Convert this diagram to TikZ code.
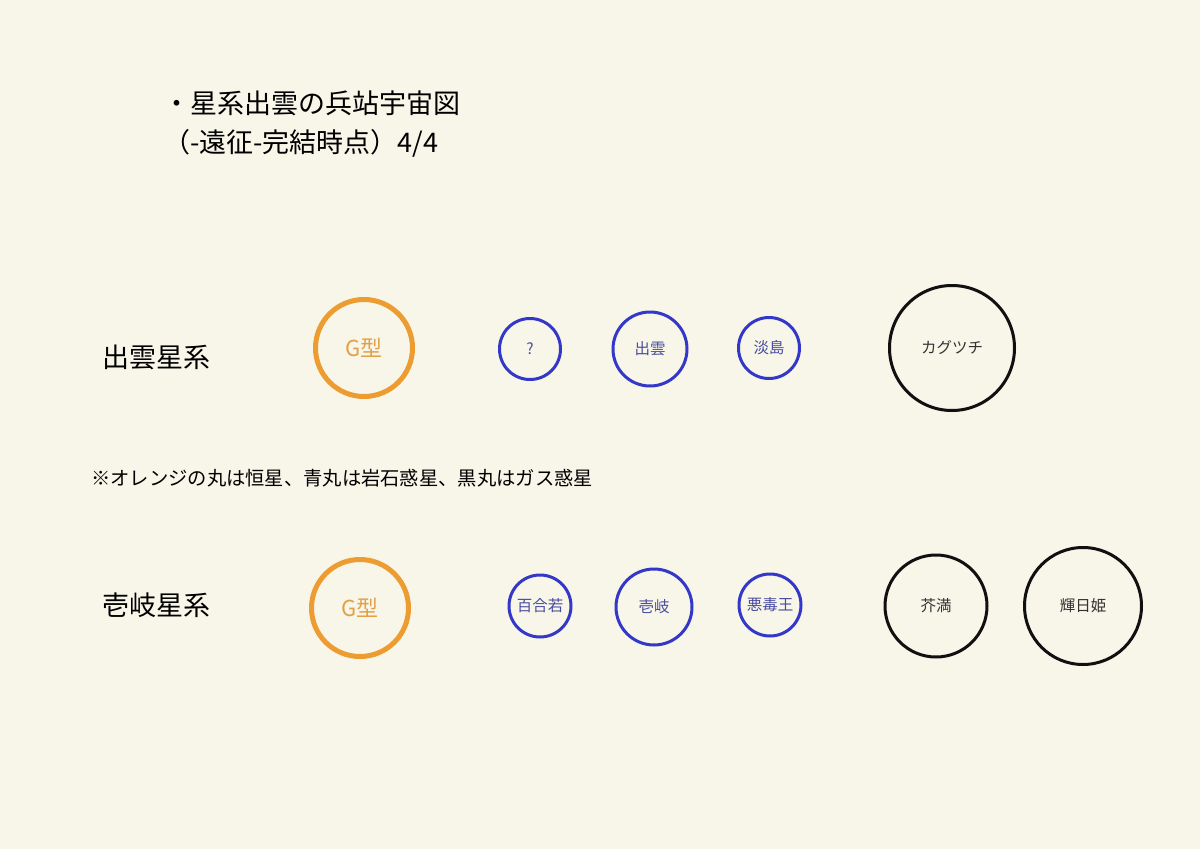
\documentclass[tikz,border=0pt]{standalone}
\usepackage{fontspec}
\setmainfont{Noto Sans CJK JP}
\usepackage{tikz}
\usetikzlibrary{positioning}
\definecolor{paper}{RGB}{248,245,233}
\definecolor{starorange}{RGB}{236,156,48}
\definecolor{starlabel}{RGB}{228,160,72}
\definecolor{rockblue}{RGB}{52,56,200}
\definecolor{rocklabel}{RGB}{72,76,160}
\definecolor{gasblack}{RGB}{16,16,16}

\begin{document}
\begin{tikzpicture}[x=1pt, y=-1pt,
		star/.style={circle, draw=starorange, line width=5pt, inner sep=0pt, text=starlabel, font=\fontsize{22}{24}\selectfont},
		rock/.style={circle, draw=rockblue, line width=3pt, inner sep=0pt, text=rocklabel, font=\fontsize{15.5}{17}\selectfont},
		gas/.style={circle, draw=gasblack, line width=3pt, inner sep=0pt, text=black!80, font=\fontsize{15.5}{17}\selectfont},
		syslabel/.style={anchor=west, inner sep=0pt, font=\fontsize{27}{29}\selectfont}]
		\fill[paper] (0,0) rectangle (1200,849);
		\useasboundingbox (0,0) rectangle (1200,849);
		% title
		\node[syslabel] (title1) at (163,103) {・星系出雲の兵站宇宙図};
		\node[syslabel] (title2) at (163,143) {（-遠征-完結時点）4/4};
		% Izumo system
		\node[syslabel] (izumosys) at (102,357) {出雲星系};
		\node[star, minimum size=97pt] (izumostar) at (364,348) {G型};
		\node[rock, minimum size=61pt] (izumoq) at (530,349) {?};
		\node[rock, minimum size=74pt] (izumo) at (650,349) {出雲};
		\node[rock, minimum size=61pt] (awashima) at (769,348) {淡島};
		\node[gas, minimum size=125pt] (kagutsuchi) at (952,348) {カグツチ};
		% legend
		\node[anchor=west, inner sep=0pt, font=\fontsize{19.3}{21}\selectfont] (legend) at (91,478) {※オレンジの丸は恒星、青丸は岩石惑星、黒丸はガス惑星};
		% Iki system
		\node[syslabel] (ikisys) at (102,605) {壱岐星系};
		\node[star, minimum size=97pt] (ikistar) at (360,608) {G型};
		\node[rock, minimum size=62pt] (yuriwaka) at (540,606) {百合若};
		\node[rock, minimum size=76pt] (iki) at (654,607) {壱岐};
		\node[rock, minimum size=62pt] (akudoku) at (770,605) {悪毒王};
		\node[gas, minimum size=102pt] (keman) at (936,606) {芥満};
		\node[gas, minimum size=117pt] (kagayahime) at (1083,606) {輝日姫};
	\end{tikzpicture}
\end{document}
